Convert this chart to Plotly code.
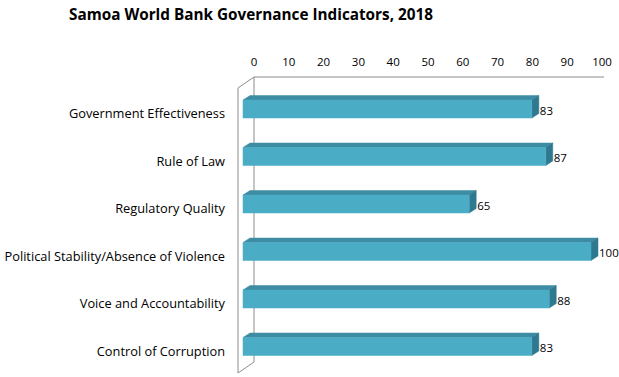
import plotly.graph_objects as go

categories = ["Government Effectiveness", "Rule of Law", "Regulatory Quality",
              "Political Stability/Absence of Violence", "Voice and Accountability",
              "Control of Corruption"]
values = [83, 87, 65, 100, 88, 83]
x_ticks = [0, 10, 20, 30, 40, 50, 60, 70, 80, 90, 100]
title = "Samoa World Bank Governance Indicators, 2018"

W, H = 619, 377
L, R, T, B = 236, 606, 76, 376
PX_X = 3.48          # px per value unit
X0_PX = 254          # back plane zero
SP = 47.5            # px per category
Y0_PX = 109          # center of first bar front face

def xu(px):
    return (px - X0_PX) / PX_X

def yu(px):
    return (px - Y0_PX) / SP

front0 = xu(243)
dx = 7 / PX_X
dy = 4.5 / SP
hh = 9 / SP

FRONT = "#4BACC6"
TOP = "#3E8CA3"
SIDE = "#2E7890"
FONT = "Open Sans"

fig = go.Figure()

for i, v in enumerate(values):
    xl, xr = front0, front0 + v
    yt, yb = i - hh, i + hh
    fig.add_trace(go.Scatter(
        x=[xl, xr, xr + dx, xl + dx, xl], y=[yt, yt, yt - dy, yt - dy, yt],
        fill="toself", fillcolor=TOP, mode="lines", line=dict(width=0.5, color=TOP),
        hoverinfo="skip", showlegend=False))
    fig.add_trace(go.Scatter(
        x=[xr, xr + dx, xr + dx, xr, xr], y=[yt, yt - dy, yb - dy, yb, yt],
        fill="toself", fillcolor=SIDE, mode="lines", line=dict(width=0.5, color=SIDE),
        hoverinfo="skip", showlegend=False))
    fig.add_trace(go.Scatter(
        x=[xl, xr, xr, xl, xl], y=[yt, yt, yb, yb, yt],
        fill="toself", fillcolor=FRONT, mode="lines", line=dict(width=0.5, color=FRONT),
        hoverinfo="skip", showlegend=False))

fig.add_trace(go.Scatter(
    x=[front0 + v + dx + 1 / PX_X for v in values],
    y=[i + 3 / SP for i in range(len(values))],
    text=[str(v) for v in values], mode="text", textposition="middle right",
    textfont=dict(family=FONT, size=11.5, color="#000000"), cliponaxis=False,
    hoverinfo="skip", showlegend=False))

wall = dict(color="#8C8C8C", width=1)
yt_back = yu(77)
yt_front = yu(88)
yb_back = yu(362)
yb_front = yu(373)
xf = xu(238)
xend = xu(604)
shapes = [
    dict(type="line", x0=0, x1=xend, y0=yt_back, y1=yt_back),
    dict(type="line", x0=0, x1=xf, y0=yt_back, y1=yt_front),
    dict(type="line", x0=0, x1=0, y0=yt_back, y1=yb_back),
    dict(type="line", x0=xf, x1=xf, y0=yt_front, y1=yb_front),
    dict(type="line", x0=xf, x1=0, y0=yb_front, y1=yb_back),
]
for s in shapes:
    s.update(xref="x", yref="y", line=wall, layer="below")

fig.update_layout(
    width=W, height=H,
    margin=dict(l=L, r=W - R, t=T, b=H - B, autoexpand=False),
    paper_bgcolor="white", plot_bgcolor="white",
    shapes=shapes,
    title=dict(text="<b>" + title + "</b>", x=251 / W, xanchor="center",
               y=1 - 15 / H, yanchor="middle", yref="container",
               font=dict(family=FONT, size=15.3, color="#000000")),
    xaxis=dict(range=[xu(L), xu(R)], side="top", tickvals=x_ticks,
               ticktext=[str(t) for t in x_ticks], showgrid=False, zeroline=False,
               showline=False, ticks="", ticklabelstandoff=7,
               tickfont=dict(family=FONT, size=11.5, color="#000000")),
    yaxis=dict(range=[yu(B), yu(T)], tickvals=[i + 5 / SP for i in range(len(categories))],
               ticktext=categories, showgrid=False, zeroline=False, showline=False,
               ticks="", ticklabelstandoff=10,
               tickfont=dict(family=FONT, size=12.8, color="#000000")),
)

fig.write_html("out.html", config={"displayModeBar": False},
               post_script="document.body.style.margin='0px';document.body.style.overflow='hidden';")
